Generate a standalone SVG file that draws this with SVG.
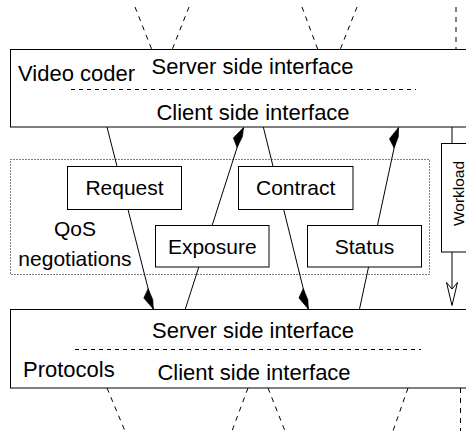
<svg xmlns="http://www.w3.org/2000/svg" width="466" height="431" viewBox="0 0 466 431">
  <style>
    .box { fill: #fff; stroke: #000; stroke-width: 1; }
    .sep { stroke: #000; stroke-width: 1; stroke-dasharray: 4 4; fill: none; }
    .ext { stroke: #000; stroke-width: 1; stroke-dasharray: 5 5; fill: none; }
    .grp { fill: none; stroke: #000; stroke-width: 1; stroke-dasharray: 1 2; }
    .link { stroke: #000; stroke-width: 1; fill: none; }
    text { font-family: "Liberation Sans", Arial, sans-serif; fill: #000; }
    .big { font-size: 22px; }
    .lbl { font-size: 21px; text-anchor: middle; }
    .mid { text-anchor: middle; }
  </style>
  <defs>
    <!-- half-barb filled heads; barb sits on the left of the line as drawn on screen -->
    <marker id="headDown" markerUnits="userSpaceOnUse" markerWidth="30" markerHeight="30" refX="0" refY="0" orient="auto" overflow="visible">
      <path d="M0,0 L-13,6.5 L-21,0 L-9,-1.8 Z" fill="#000" stroke="#000" stroke-width="0.6" stroke-linejoin="round"/>
    </marker>
    <marker id="headUp" markerUnits="userSpaceOnUse" markerWidth="30" markerHeight="30" refX="0" refY="0" orient="auto" overflow="visible">
      <path d="M0,0 L-13,-6.5 L-21,0 L-9,1.8 Z" fill="#000" stroke="#000" stroke-width="0.6" stroke-linejoin="round"/>
    </marker>
  </defs>

  <!-- continuation hints above and below the stack -->
  <g id="extensions">
    <line class="ext" x1="135" y1="7" x2="152" y2="50"/>
    <line class="ext" x1="189" y1="7" x2="172" y2="50"/>
    <line class="ext" x1="302" y1="7" x2="318" y2="50"/>
    <line class="ext" x1="357" y1="7" x2="340" y2="50"/>
    <line class="ext" x1="456" y1="7" x2="456" y2="50"/>
    <line class="ext" x1="107" y1="388" x2="125" y2="431"/>
    <line class="ext" x1="248" y1="388" x2="232" y2="431"/>
    <line class="ext" x1="268" y1="388" x2="285" y2="431"/>
    <line class="ext" x1="408" y1="388" x2="393" y2="431"/>
    <line class="ext" x1="460.5" y1="388" x2="460.5" y2="431"/>
  </g>

  <!-- QoS negotiation area -->
  <g id="qos">
    <rect class="grp" x="10.5" y="159.5" width="419" height="115"/>
    <text class="mid" x="75" y="236" font-size="21">QoS</text>
    <text class="mid" x="75" y="266" font-size="21">negotiations</text>
  </g>

  <!-- connectors between the two layers -->
  <g id="connectors">
    <line class="link" x1="107" y1="127" x2="153.3" y2="309" marker-end="url(#headDown)"/>
    <line class="link" x1="185" y1="310" x2="243.5" y2="127.5" marker-end="url(#headUp)"/>
    <line class="link" x1="263.3" y1="127" x2="308.3" y2="309" marker-end="url(#headDown)"/>
    <line class="link" x1="359.3" y1="310" x2="398.5" y2="127.5" marker-end="url(#headUp)"/>
    <line class="link" x1="452" y1="127" x2="452" y2="143"/>
    <line class="link" x1="452" y1="252" x2="452" y2="289"/>
    <path class="link" d="M452,289 L446.5,282.5 L452,305.5 L457.5,282.5 Z" fill="#fff"/>
  </g>

  <g id="videoCoder">
    <rect class="box" x="10.5" y="49.5" width="470" height="77.5"/>
    <line class="sep" x1="71" y1="89.5" x2="416" y2="89.5"/>
    <text class="big" x="18" y="81">Video coder</text>
    <text class="big mid" x="252.5" y="74">Server side interface</text>
    <text class="big mid" x="253" y="120">Client side interface</text>
  </g>

  <g id="protocols">
    <rect class="box" x="10.5" y="309.5" width="470" height="78.5"/>
    <line class="sep" x1="75" y1="349.5" x2="421" y2="349.5"/>
    <text class="big mid" x="253" y="338">Server side interface</text>
    <text class="big" x="23" y="376.5">Protocols</text>
    <text class="big mid" x="254" y="380">Client side interface</text>
  </g>

  <g id="request">
    <rect class="box" x="67.5" y="166.5" width="114" height="43"/>
    <text class="lbl" x="124.5" y="195">Request</text>
  </g>
  <g id="exposure">
    <rect class="box" x="155.5" y="225.5" width="113.5" height="41.5"/>
    <text class="lbl" x="212.3" y="254">Exposure</text>
  </g>
  <g id="contract">
    <rect class="box" x="238.5" y="166.5" width="114.5" height="43"/>
    <text class="lbl" x="295.7" y="195">Contract</text>
  </g>
  <g id="status">
    <rect class="box" x="307.5" y="225.5" width="114" height="41.5"/>
    <text class="lbl" x="364.5" y="254">Status</text>
  </g>
  <g id="workload">
    <rect class="box" x="441.5" y="143.5" width="40" height="108.5"/>
    <text transform="translate(464,193.5) rotate(-90)" text-anchor="middle" font-size="15.5">Workload</text>
  </g>
</svg>
